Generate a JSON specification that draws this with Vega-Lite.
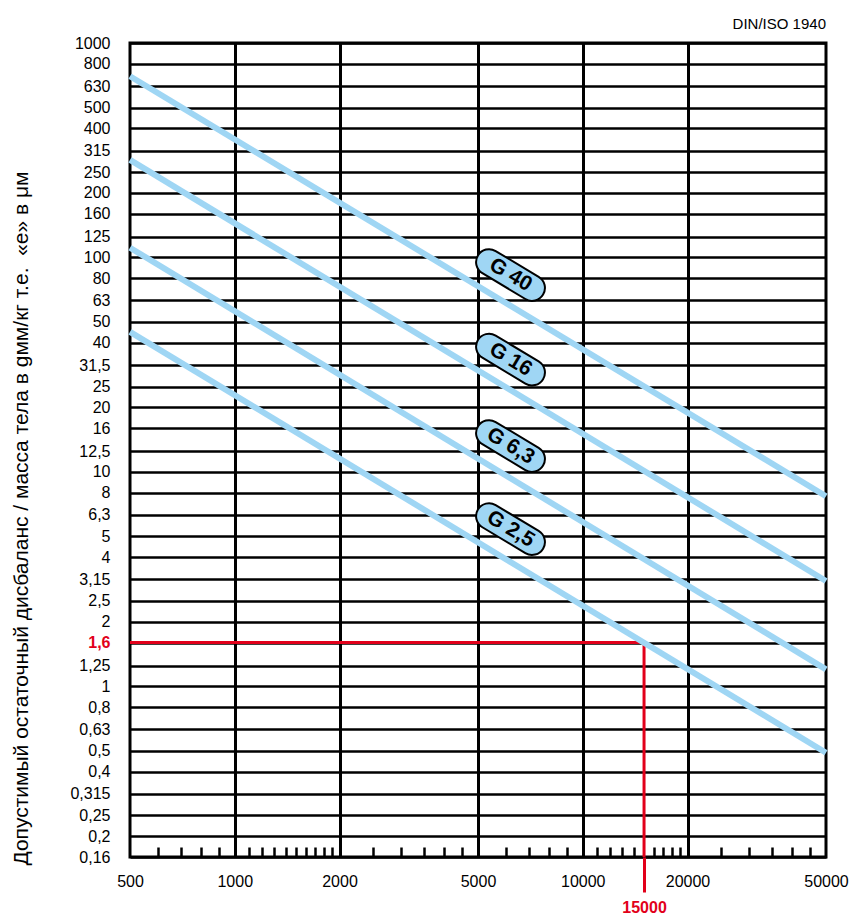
{
  "$schema": "https://vega.github.io/schema/vega-lite/v6.json",
  "autosize": {"type": "none"},
  "padding": {"left": 130, "top": 43, "right": 26, "bottom": 59},
  "width": 696,
  "height": 814,
  "background": "white",
  "title": {
    "text": "DIN/ISO 1940",
    "anchor": "end",
    "frame": "group",
    "orient": "top",
    "baseline": "alphabetic",
    "offset": -9,
    "font": "Liberation Sans",
    "fontSize": 15,
    "fontWeight": "normal",
    "color": "black"
  },
  "config": {
    "view": {"stroke": "black", "strokeWidth": 3},
    "axis": {"labelFont": "Liberation Sans", "titleFont": "Liberation Sans"}
  },
  "datasets": {
    "lines": [
      {"G": "G 40", "n": 500, "e": 700},
      {"G": "G 40", "n": 50000, "e": 7.7},
      {"G": "G 16", "n": 500, "e": 285},
      {"G": "G 16", "n": 50000, "e": 3.1},
      {"G": "G 6,3", "n": 500, "e": 111},
      {"G": "G 6,3", "n": 50000, "e": 1.2},
      {"G": "G 2,5", "n": 500, "e": 45},
      {"G": "G 2,5", "n": 50000, "e": 0.49}
    ],
    "labels": [
      {"G": "G 40", "n": 6200, "e": 82.8},
      {"G": "G 16", "n": 6200, "e": 33.4},
      {"G": "G 6,3", "n": 6200, "e": 13.2},
      {"G": "G 2,5", "n": 6200, "e": 5.41}
    ],
    "red": [
      {"n": 500, "n2": 15000, "e": 1.6, "e2": 1.6},
      {"n": 15000, "n2": 15000, "e": 0.16, "e2": 1.6}
    ]
  },
  "encoding": {
    "x": {
      "field": "n",
      "type": "quantitative",
      "scale": {"type": "log", "domain": [500, 50000], "nice": false},
      "axis": {
        "title": null,
        "orient": "bottom",
        "values": [500, 600, 700, 800, 900, 1000, 1100, 1200, 1300, 1400, 1500, 1600, 1700, 1800, 1900, 2000, 2500, 3000, 3500, 4000, 4500, 5000, 6000, 7000, 8000, 9000, 10000, 11000, 12000, 13000, 14000, 15000, 16000, 17000, 18000, 19000, 20000, 25000, 30000, 35000, 40000, 45000, 50000],
        "labelExpr": "indexof([500, 1000, 2000, 5000, 10000, 15000, 20000, 50000], datum.value) >= 0 ? format(datum.value, 'd') : ''",
        "domain": false,
        "grid": true,
        "gridColor": "black",
        "gridWidth": 3,
        "gridOpacity": {"condition": {"test": "indexof([1000, 2000, 5000, 10000, 20000], datum.value) >= 0", "value": 1}, "value": 0},
        "ticks": true,
        "tickColor": {"condition": {"test": "datum.value == 15000", "value": "#e2001a"}, "value": "black"},
        "tickWidth": {"condition": {"test": "datum.value == 15000", "value": 3}, "value": 2.5},
        "tickSize": {"condition": [
          {"test": "datum.value == 15000", "value": 35},
          {"test": "indexof([500, 1000, 2000, 5000, 10000, 20000, 50000], datum.value) >= 0", "value": 0}
        ], "value": -10},
        "labelFontSize": 16,
        "labelColor": {"condition": {"test": "datum.value == 15000", "value": "#e2001a"}, "value": "black"},
        "labelFontWeight": {"condition": {"test": "datum.value == 15000", "value": "bold"}, "value": "normal"},
        "labelPadding": {"condition": {"test": "datum.value == 15000", "value": 7}, "value": 16},
        "labelBaseline": "top",
        "labelFlush": false,
        "labelOverlap": false
      }
    },
    "y": {
      "field": "e",
      "type": "quantitative",
      "scale": {"type": "log", "domain": [0.16, 1000], "nice": false},
      "axis": {
        "title": "Допустимый остаточный дисбаланс / масса тела в gмм/кг т.е. \u00a0«e» в μм",
        "titleFontSize": 21,
        "titleFontWeight": "normal",
        "titleColor": "black",
        "titleAngle": -90,
        "titleAlign": "center",
        "titleBaseline": "middle",
        "titleX": -109,
        "titleY": 475,
        "values": [0.16, 0.2, 0.25, 0.315, 0.4, 0.5, 0.63, 0.8, 1, 1.25, 1.6, 2, 2.5, 3.15, 4, 5, 6.3, 8, 10, 12.5, 16, 20, 25, 31.5, 40, 50, 63, 80, 100, 125, 160, 200, 250, 315, 400, 500, 630, 800, 1000],
        "labelExpr": "replace('' + datum.value, '.', ',')",
        "domain": false,
        "ticks": false,
        "grid": true,
        "gridColor": "black",
        "gridWidth": 2.5,
        "labelFontSize": 16,
        "labelPadding": 20,
        "labelColor": {"condition": {"test": "datum.value == 1.6", "value": "#e2001a"}, "value": "black"},
        "labelFontWeight": {"condition": {"test": "datum.value == 1.6", "value": "bold"}, "value": "normal"},
        "labelFlush": false,
        "labelOverlap": false
      }
    }
  },
  "layer": [
    {
      "data": {"name": "red"},
      "mark": {"type": "rule", "color": "#e2001a", "strokeWidth": 3},
      "encoding": {
        "x2": {"field": "n2"},
        "y2": {"field": "e2"}
      }
    },
    {
      "data": {"name": "lines"},
      "mark": {"type": "line", "color": "#9fd6f4", "strokeWidth": 6, "strokeCap": "butt"},
      "encoding": {
        "detail": {"field": "G"}
      }
    },
    {
      "data": {"name": "labels"},
      "mark": {
        "type": "point",
        "shape": "M -0.66,-0.34 L 0.66,-0.34 A 0.34,0.34 0 0 1 0.66,0.34 L -0.66,0.34 A 0.34,0.34 0 0 1 -0.66,-0.34 Z",
        "size": 5776,
        "angle": 31,
        "filled": true,
        "fill": "#9fd6f4",
        "fillOpacity": 1,
        "stroke": "black",
        "strokeWidth": 2,
        "opacity": 1
      },
      "encoding": {}
    },
    {
      "data": {"name": "labels"},
      "mark": {
        "type": "text",
        "angle": 31,
        "align": "center",
        "baseline": "middle",
        "font": "Liberation Sans",
        "fontSize": 21,
        "fontWeight": "bold",
        "color": "black"
      },
      "encoding": {
        "text": {"field": "G"}
      }
    }
  ]
}
